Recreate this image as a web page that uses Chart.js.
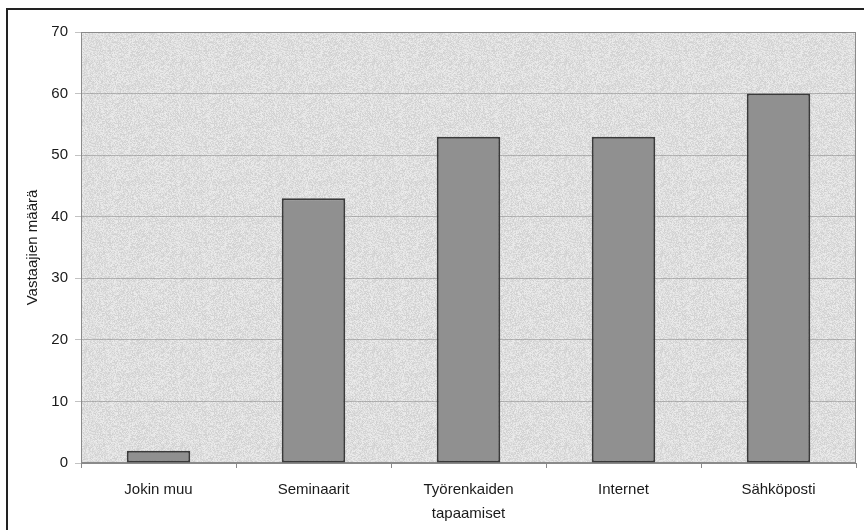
<!DOCTYPE html>
<html>
<head>
<meta charset="utf-8">
<script src="https://cdn.jsdelivr.net/npm/chart.js@4"></script>
<style>
  html, body { margin: 0; padding: 0; background: #fff; }
  #wrap { position: relative; width: 864px; height: 530px; }
</style>
</head>
<body>
<div id="wrap"><canvas id="chart" width="864" height="530"></canvas></div>
<script>
// Data
const categories = ['Jokin muu', 'Seminaarit', ['Työrenkaiden', 'tapaamiset'], 'Internet', 'Sähköposti'];
const responses  = [2, 43, 53, 53, 60];
const yTitle     = 'Vastaajien määrä';

// Speckled grey fill like the old spreadsheet plot area
function makeSpeckle() {
  const c = document.createElement('canvas');
  c.width = c.height = 96;
  const g = c.getContext('2d');
  const img = g.createImageData(96, 96);
  let seed = 12345;
  for (let i = 0; i < img.data.length; i += 4) {
    seed = (seed * 1103515245 + 12345) & 0x7fffffff;
    const v = 236 - (seed % 30);
    img.data[i] = img.data[i + 1] = img.data[i + 2] = v;
    img.data[i + 3] = 255;
  }
  g.putImageData(img, 0, 0);
  return c;
}

const framePlugin = {
  id: 'frame',
  beforeDraw(chart) {
    const { ctx, chartArea: a } = chart;
    ctx.save();
    ctx.fillStyle = ctx.createPattern(makeSpeckle(), 'repeat');
    ctx.fillRect(a.left, a.top, a.right - a.left, a.bottom - a.top);
    // outer picture frame (left and top edges visible)
    ctx.strokeStyle = '#222';
    ctx.lineWidth = 2;
    ctx.beginPath();
    ctx.moveTo(7, 530);
    ctx.lineTo(7, 9);
    ctx.lineTo(864, 9);
    ctx.stroke();
    ctx.restore();
  },
  beforeDatasetsDraw(chart) {
    const { ctx, chartArea: a } = chart;
    ctx.save();
    ctx.strokeStyle = '#8a8a8a';
    ctx.lineWidth = 1;
    ctx.strokeRect(a.left + 0.5, a.top + 0.5, a.right - a.left - 1, a.bottom - a.top - 1);
    ctx.restore();
  }
};

const font = { family: '"Liberation Sans", Arial, sans-serif', size: 15 };

new Chart(document.getElementById('chart'), {
  type: 'bar',
  data: {
    labels: categories,
    datasets: [{
      data: responses,
      backgroundColor: '#909090',
      borderColor: '#3a3a3a',
      borderWidth: 2,
      borderSkipped: false,
      categoryPercentage: 1.0,
      barPercentage: 0.41
    }]
  },
  options: {
    responsive: false,
    animation: false,
    devicePixelRatio: 1,
    layout: { padding: { top: 32, right: 8, bottom: 0, left: 0 } },
    plugins: { legend: { display: false }, tooltip: { enabled: false } },
    scales: {
      x: {
        afterFit: s => { s.height = 67; },
        grid: { drawOnChartArea: false, tickLength: 5, color: '#8a8a8a' },
        border: { color: '#8a8a8a' },
        ticks: {
          color: '#1a1a1a', padding: 10, maxRotation: 0,
          font: { ...font, lineHeight: 1.6 }
        }
      },
      y: {
        min: 0, max: 70,
        afterFit: s => { s.width = 81; },
        grid: { color: 'rgba(120,120,120,0.45)', tickLength: 6 },
        border: { color: '#8a8a8a' },
        ticks: { stepSize: 10, color: '#1a1a1a', padding: 7, font }
      ,
        title: {
          display: true, text: yTitle, color: '#1a1a1a',
          padding: { top: 24, bottom: 0 },
          font
        }
      }
    }
  },
  plugins: [framePlugin]
});
</script>
</body>
</html>
